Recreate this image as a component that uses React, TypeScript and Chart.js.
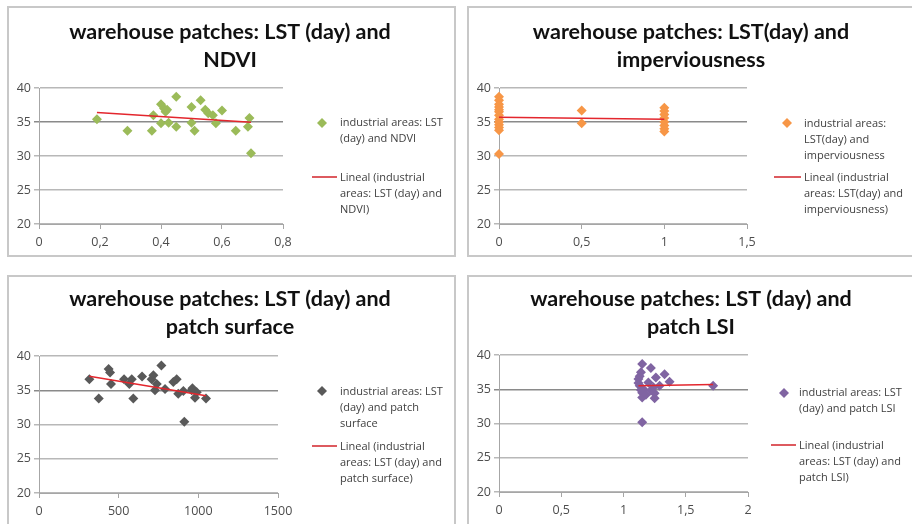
import React, { useEffect, useRef } from "react";
import { Chart, registerables } from "chart.js";

Chart.register(...registerables);

// ---------------- data ----------------
const ndviX = [0.19, 0.29, 0.37, 0.375, 0.4, 0.4, 0.41, 0.415, 0.42, 0.425, 0.45, 0.45, 0.5, 0.5, 0.51, 0.53, 0.545, 0.555, 0.57, 0.58, 0.6, 0.645, 0.685, 0.69, 0.695];
const ndviLst = [35.4, 33.7, 33.7, 36.0, 34.8, 37.6, 37.0, 36.5, 36.8, 34.9, 38.7, 34.3, 37.2, 34.9, 33.7, 38.2, 36.8, 36.3, 36.0, 34.8, 36.7, 33.7, 34.3, 35.6, 30.4];
const ndviTrendX = [0.19, 0.695];
const ndviTrendY = [36.4, 34.95];

const impX = [0, 0, 0, 0, 0, 0, 0, 0, 0, 0, 0, 0, 0, 0.5, 0.5, 1, 1, 1, 1, 1, 1, 1, 1];
const impLst = [38.7, 38.2, 37.6, 37.2, 36.8, 36.5, 36.0, 35.4, 35.0, 34.6, 34.2, 33.8, 30.3, 36.7, 34.8, 37.1, 36.6, 36.1, 35.6, 35.0, 34.5, 34.0, 33.6];
const impTrendX = [0, 1];
const impTrendY = [35.7, 35.4];

const areaX = [316, 375, 437, 446, 452, 534, 567, 582, 592, 647, 707, 718, 728, 739, 768, 791, 843, 864, 874, 906, 912, 958, 963, 979, 990, 1048];
const areaLst = [36.6, 33.8, 38.1, 37.6, 35.9, 36.6, 35.9, 36.6, 33.8, 37.0, 36.6, 37.2, 35.0, 35.9, 38.6, 35.2, 36.2, 36.6, 34.5, 34.9, 30.4, 35.0, 35.3, 33.9, 34.7, 33.8];
const areaTrendX = [316, 1048];
const areaTrendY = [37.05, 34.2];

const lsiX = [1.15, 1.22, 1.14, 1.13, 1.12, 1.12, 1.13, 1.15, 1.15, 1.16, 1.26, 1.25, 1.25, 1.33, 1.37, 1.29, 1.22, 1.15, 1.72, 1.2, 1.24, 1.14, 1.18];
const lsiLst = [38.7, 38.1, 37.5, 36.9, 36.5, 35.9, 35.5, 34.5, 33.8, 35.0, 36.7, 33.7, 34.4, 37.2, 36.1, 35.5, 34.8, 30.2, 35.5, 36.0, 35.3, 34.9, 34.2];
const lsiTrendX = [1.12, 1.72];
const lsiTrendY = [35.5, 35.7];

const yTicks = { min: 20, max: 40, step: 5 };

// ---------------- panel specs ----------------
type Spec = {
  box: { left: number; top: number; width: number; height: number };
  plot: { left: number; top: number; right: number; bottom: number };
  title: string[];
  titleX: number;
  titleY: number;
  xs: number[];
  ys: number[];
  tx: number[];
  ty: number[];
  color: string;
  xMin: number;
  xMax: number;
  xStep: number;
  legendPts: string[];
  legendLine: string[];
  legend: { mx: number; my: number; tx: number; ly: number; lx0: number; lx1: number; lty: number };
};

const specs: Spec[] = [
  {
    box: { left: 7, top: 6, width: 449, height: 251 },
    plot: { left: 30, top: 80, right: 274, bottom: 216 },
    title: ["warehouse patches: LST (day) and", "NDVI"],
    titleX: 221, titleY: 24,
    xs: ndviX, ys: ndviLst, tx: ndviTrendX, ty: ndviTrendY,
    color: "#9BBB59", xMin: 0, xMax: 0.8, xStep: 0.2,
    legendPts: ["industrial areas: LST", "(day) and NDVI"],
    legendLine: ["Lineal (industrial", "areas: LST (day) and", "NDVI)"],
    legend: { mx: 313, my: 115, tx: 331, ly: 115, lx0: 303, lx1: 328, lty: 169 },
  },
  {
    box: { left: 467, top: 6, width: 460, height: 251 },
    plot: { left: 30, top: 80, right: 278, bottom: 216 },
    title: ["warehouse patches: LST(day) and", "imperviousness"],
    titleX: 222, titleY: 24,
    xs: impX, ys: impLst, tx: impTrendX, ty: impTrendY,
    color: "#F79646", xMin: 0, xMax: 1.5, xStep: 0.5,
    legendPts: ["industrial areas:", "LST(day) and", "imperviousness"],
    legendLine: ["Lineal (industrial", "areas: LST(day) and", "imperviousness)"],
    legend: { mx: 318, my: 115, tx: 335, ly: 116, lx0: 305, lx1: 332, lty: 169 },
  },
  {
    box: { left: 7, top: 275, width: 449, height: 260 },
    plot: { left: 30, top: 79, right: 269, bottom: 216 },
    title: ["warehouse patches: LST (day) and", "patch surface"],
    titleX: 221, titleY: 22,
    xs: areaX, ys: areaLst, tx: areaTrendX, ty: areaTrendY,
    color: "#595959", xMin: 0, xMax: 1500, xStep: 500,
    legendPts: ["industrial areas: LST", "(day) and patch", "surface"],
    legendLine: ["Lineal (industrial", "areas: LST (day) and", "patch surface)"],
    legend: { mx: 313, my: 114, tx: 331, ly: 115, lx0: 303, lx1: 328, lty: 169 },
  },
  {
    box: { left: 467, top: 275, width: 460, height: 260 },
    plot: { left: 30, top: 78, right: 279, bottom: 215 },
    title: ["warehouse patches: LST (day) and", "patch LSI"],
    titleX: 222, titleY: 22,
    xs: lsiX, ys: lsiLst, tx: lsiTrendX, ty: lsiTrendY,
    color: "#8064A2", xMin: 0, xMax: 2, xStep: 0.5,
    legendPts: ["industrial areas: LST", "(day) and patch LSI"],
    legendLine: ["Lineal (industrial", "areas: LST (day) and", "patch LSI)"],
    legend: { mx: 315, my: 116, tx: 330, ly: 116, lx0: 302, lx1: 327, lty: 168 },
  },
];

const BORDER = 2;
const Y_W = 30;
const X_H = 30;
const FONT = "'Open Sans', 'Noto Sans', sans-serif";
const TITLE_FONT = "Lato, 'Open Sans', sans-serif";

function fmt(v: number): string {
  const r = Math.round(v * 1000) / 1000;
  return String(r).replace(".", ",");
}

function Panel({ spec }: { spec: Spec }) {
  const ref = useRef<HTMLCanvasElement>(null);
  const cw = spec.box.width - 2 * BORDER;
  const ch = spec.box.height - 2 * BORDER;

  useEffect(() => {
    const canvas = ref.current;
    if (!canvas) return;
    const decor = {
      id: "decor",
      afterDraw(chart: any) {
        const ctx = chart.ctx as CanvasRenderingContext2D;
        ctx.save();
        // title
        ctx.fillStyle = "#111111";
        ctx.font = `bold 21.5px ${TITLE_FONT}`;
        ctx.textAlign = "center";
        ctx.textBaseline = "middle";
        spec.title.forEach((t, i) => ctx.fillText(t, spec.titleX, spec.titleY + i * 28));
        // legend
        const L = spec.legend;
        ctx.fillStyle = spec.color;
        ctx.beginPath();
        ctx.moveTo(L.mx, L.my - 5);
        ctx.lineTo(L.mx + 5, L.my);
        ctx.lineTo(L.mx, L.my + 5);
        ctx.lineTo(L.mx - 5, L.my);
        ctx.closePath();
        ctx.fill();
        ctx.strokeStyle = "#d2232a";
        ctx.lineWidth = 1.5;
        ctx.beginPath();
        ctx.moveTo(L.lx0, L.lty);
        ctx.lineTo(L.lx1, L.lty);
        ctx.stroke();
        ctx.fillStyle = "#404040";
        ctx.font = `11px ${FONT}`;
        ctx.textAlign = "left";
        spec.legendPts.forEach((t, i) => ctx.fillText(t, L.tx, L.ly + i * 16));
        spec.legendLine.forEach((t, i) => ctx.fillText(t, L.tx, L.lty + 1 + i * 16));
        ctx.restore();
      },
    };

    const pts = spec.xs.map((x, i) => ({ x, y: spec.ys[i] }));
    const trend = spec.tx.map((x, i) => ({ x, y: spec.ty[i] }));

    const chart = new Chart(canvas, {
      type: "scatter",
      data: {
        datasets: [
          {
            label: spec.legendPts.join(" "),
            data: pts,
            order: 1,
            clip: false,
            pointStyle: "rectRot",
            pointRadius: 5,
            pointHoverRadius: 5,
            backgroundColor: spec.color,
            borderColor: spec.color,
            borderWidth: 0,
          } as any,
          {
            label: spec.legendLine.join(" "),
            data: trend,
            order: 0,
            clip: false,
            showLine: true,
            pointRadius: 0,
            borderColor: "#e3262d",
            borderWidth: 1.5,
            fill: false,
          } as any,
        ],
      },
      options: {
        responsive: false,
        animation: false,
        events: [],
        layout: {
          padding: {
            left: spec.plot.left - Y_W,
            top: spec.plot.top,
            right: cw - spec.plot.right,
            bottom: ch - spec.plot.bottom - X_H,
          },
        },
        scales: {
          x: {
            type: "linear",
            min: spec.xMin,
            max: spec.xMax,
            afterFit: (s: any) => {
              s.height = X_H;
            },
            ticks: {
              stepSize: spec.xStep,
              padding: 6,
              color: "#4d4d4d",
              font: { family: FONT, size: 12.5 },
              callback: (v: any) => fmt(Number(v)),
              maxRotation: 0,
            },
            grid: { drawOnChartArea: false, drawTicks: true, tickLength: 5, color: "#a6a6a6" },
            border: { color: "#a6a6a6", width: 1 },
          },
          y: {
            min: yTicks.min,
            max: yTicks.max,
            afterFit: (s: any) => {
              s.width = Y_W;
            },
            ticks: {
              stepSize: yTicks.step,
              padding: 3,
              color: "#4d4d4d",
              font: { family: FONT, size: 12.5 },
            },
            grid: {
              tickLength: 5,
              color: (c: any) => (c.tick && c.tick.value === 35 ? "#8a8a8a" : "#b8b8b8"),
              lineWidth: 1.5,
            },
            border: { color: "#a6a6a6", width: 1 },
          },
        },
        plugins: { legend: { display: false }, tooltip: { enabled: false }, title: { display: false } },
      },
      plugins: [decor],
    });
    return () => chart.destroy();
  }, []);

  return (
    <div
      style={{
        position: "absolute",
        left: spec.box.left,
        top: spec.box.top,
        width: spec.box.width,
        height: spec.box.height,
        boxSizing: "border-box",
        border: `${BORDER}px solid #c8c8c8`,
        background: "#ffffff",
      }}
    >
      <canvas ref={ref} width={cw} height={ch} style={{ display: "block", width: cw, height: ch }} />
    </div>
  );
}

export default function App() {
  return (
    <div
      style={{
        position: "fixed",
        left: 0,
        top: 0,
        width: 912,
        height: 524,
        overflow: "hidden",
        background: "#ffffff",
      }}
    >
      {specs.map((s, i) => (
        <Panel key={i} spec={s} />
      ))}
    </div>
  );
}
